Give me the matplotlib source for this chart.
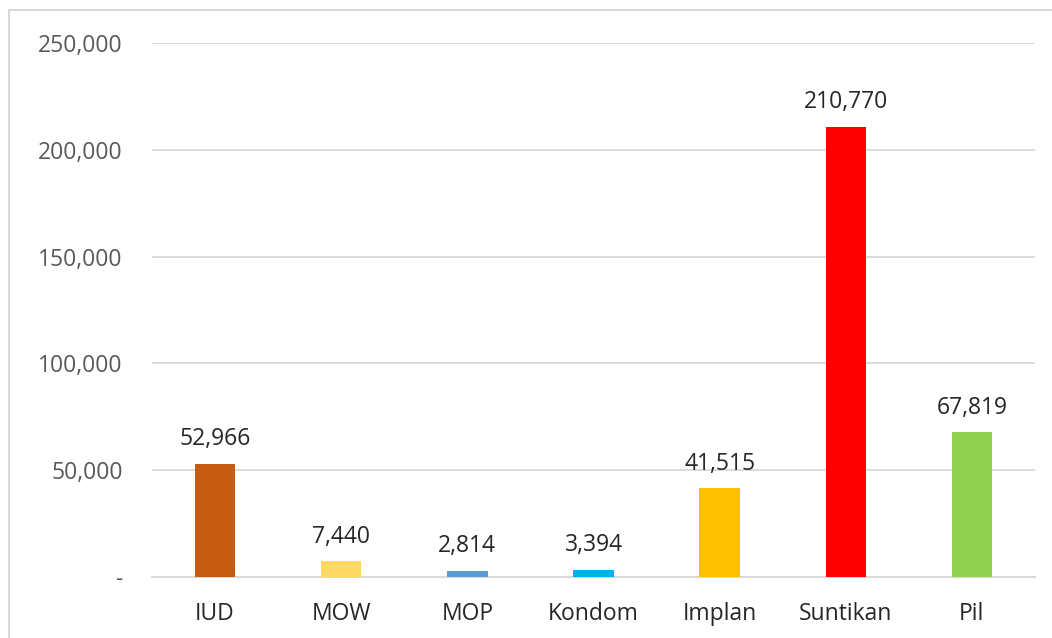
import matplotlib
matplotlib.use("Agg")
import matplotlib.pyplot as plt
from matplotlib.patches import Rectangle
from matplotlib.ticker import FuncFormatter

categories = ["IUD", "MOW", "MOP", "Kondom", "Implan", "Suntikan", "Pil"]
values = [52966, 7440, 2814, 3394, 41515, 210770, 67819]
colors = ["#C55A11", "#FFD966", "#5B9BD5", "#00B0F0", "#FFC000", "#FF0000", "#92D050"]
yticks = [0, 50000, 100000, 150000, 200000, 250000]

W, H = 1052, 638
fig = plt.figure(figsize=(W / 100, H / 100), dpi=100)
plt.rcParams['font.family'] = ['Open Sans', 'DejaVu Sans']

# outer chart frame (cut off at right/bottom)
fig.patches.append(Rectangle((9.5 / W, -0.05), 1.2, 1 - 10.5 / H + 0.05,
                             transform=fig.transFigure, fill=False,
                             edgecolor="#D9D9D9", linewidth=1.5, zorder=0))

ax = fig.add_axes([152 / W, 1 - 577 / H, (1035 - 152) / W, (577 - 43) / H])
x = range(len(categories))
bars = ax.bar(x, values, width=0.32, color=colors, zorder=3)
ax.set_xlim(-0.5, len(categories) - 0.5)
ax.set_ylim(0, 250000)
ax.set_yticks(yticks)
ax.yaxis.set_major_formatter(FuncFormatter(lambda v, p: "-" if v == 0 else f"{int(v):,}"))
ax.set_xticks(list(x))
ax.set_xticklabels(categories)
ax.tick_params(axis="y", length=0, pad=21, labelsize=16.5, labelcolor="#595959")
ax.tick_params(axis="x", length=0, pad=18, labelsize=16.5, labelcolor="#262626")
ax.grid(axis="y", color="#D9D9D9", linewidth=1.3, zorder=0)
for s in ["top", "right", "left"]:
    ax.spines[s].set_visible(False)
ax.spines["bottom"].set_color("#D9D9D9")
ax.spines["bottom"].set_linewidth(1.5)

for b, v in zip(bars, values):
    ax.annotate(f"{v:,}", (b.get_x() + b.get_width() / 2, v), xytext=(0, 9),
                textcoords="offset points", ha="center", va="bottom",
                fontsize=16.5, color="#262626")

fig.savefig("out.png", dpi=100)
